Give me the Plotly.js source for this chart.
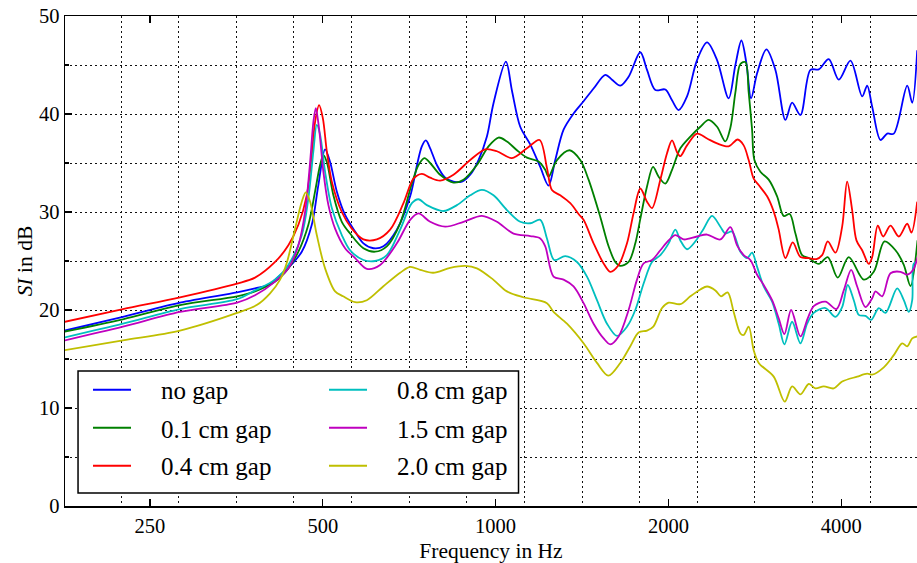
<!DOCTYPE html>
<html>
<head>
<meta charset="utf-8">
<script src="https://cdn.plot.ly/plotly-3.0.1.min.js"></script>
<style>html,body{margin:0;padding:0;background:#fff;overflow:hidden}</style>
</head>
<body>
<div id="chart" style="width:917px;height:563px"></div>
<script>
// Sound insulation (SI) spectra for different gap widths, frequency in Hz, SI in dB.
const noGapFreq = [177.7, 224.3, 282, 354.5, 381, 404.7, 412.9, 435.5, 459.6, 478.4, 491.2, 504.6, 514.9, 528.9, 546.8, 569.2, 588.5, 612.6, 637.7, 672.9, 709.8, 730.9, 743.9, 756.0, 769.1, 790.1, 816.8, 844.5, 873.5, 903.1, 933.7, 965.7, 991.6, 1042.2, 1067.6, 1103.8, 1149.0, 1196.0, 1236.5, 1270.3, 1313.3, 1367.0, 1423.0, 1481.3, 1552.6, 1594.9, 1648.9, 1704.7, 1786.7, 1835.4, 1897.6, 1975.3, 2029.1, 2083.6, 2155.0, 2243.2, 2335.1, 2430.7, 2546.6, 2616.1, 2679.8, 2734.1, 2786.1, 2854.1, 2962.6, 3071.7, 3197.5, 3284.5, 3395.9, 3534.9, 3654.6, 3804.3, 3960.1, 4150.4, 4350.0, 4438.2, 4528.2, 4681.5, 4809.2, 4938.3, 5211.1, 5316.8, 5424.5];
const noGapSI = [17.9, 19.3, 20.75, 21.8, 22.2, 22.6, 23.1, 24.3, 25.95, 28.7, 32.75, 36.4, 35.1, 32.1, 29.7, 28.0, 26.8, 26.3, 26.5, 28.2, 31.6, 35.0, 36.7, 37.3, 36.5, 34.8, 33.5, 33.1, 33.1, 33.8, 35.3, 37.7, 41.1, 45.35, 42.4, 38.7, 36.9, 34.6, 32.7, 35.3, 38.4, 40.05, 41.3, 42.6, 44.0, 43.5, 42.9, 43.8, 46.3, 44.5, 42.45, 42.5, 41.4, 40.4, 41.8, 45.5, 47.3, 45.5, 41.6, 45.0, 47.5, 45.2, 41.6, 44.15, 46.6, 44.5, 39.4, 41.15, 39.9, 44.5, 44.55, 45.6, 43.5, 45.45, 41.8, 42.9, 40.75, 37.35, 38.0, 38.0, 42.9, 41.15, 46.5];

const gap01Freq = [177.7, 224.3, 282, 354.5, 381, 412.9, 435.5, 453.4, 471.9, 484.8, 494.6, 501.2, 508.1, 521.7, 539.6, 557.9, 588.5, 616.8, 646.4, 681.9, 714.7, 733.9, 751.7, 769.1, 800.6, 844.5, 879.1, 927.7, 971.9, 1011.7, 1046.4, 1089.3, 1133.9, 1187.9, 1220.3, 1236.5, 1279.0, 1345.3, 1404.3, 1451.9, 1521.7, 1573.2, 1616.1, 1648.9, 1704.7, 1751.2, 1786.7, 1835.4, 1880.2, 1922.9, 1975.3, 2029.1, 2097.9, 2183.8, 2273.2, 2350.2, 2430.7, 2513.1, 2564.1, 2616.1, 2669.1, 2723.2, 2759.5, 2797.3, 2823.3, 2892.2, 2990.1, 3092.6, 3175.7, 3253.1, 3328.4, 3419.0, 3510.8, 3654.6, 3789.1, 3944.2, 4122.3, 4378.1, 4557.4, 4757.3, 4972.0, 5140.6, 5280.6, 5431.1];
const gap01SI = [17.8, 19.05, 20.5, 21.4, 21.9, 22.9, 24.25, 25.95, 28.7, 32.1, 34.8, 35.8, 35.1, 31.7, 29.0, 27.8, 26.3, 25.95, 26.5, 28.85, 32.9, 34.8, 35.5, 35.0, 33.8, 33.0, 33.3, 34.8, 36.7, 37.6, 37.2, 36.3, 35.55, 35.15, 34.3, 33.6, 35.3, 36.3, 35.3, 33.3, 29.5, 26.5, 24.9, 24.5, 24.9, 26.8, 29.3, 32.6, 34.6, 33.6, 32.9, 34.3, 36.5, 37.7, 38.7, 39.4, 38.7, 37.2, 38.6, 42.2, 45.1, 45.3, 42.2, 38.4, 35.3, 34.1, 33.3, 31.6, 29.6, 29.8, 27.8, 25.6, 25.3, 24.7, 25.4, 23.3, 25.4, 23.1, 23.9, 27.0, 26.1, 24.6, 22.45, 27.1];

const gap04Freq = [177.7, 224.3, 282, 354.5, 381, 412.9, 435.5, 453.4, 468.9, 478.4, 484.8, 492.6, 500, 508.1, 518.4, 539.6, 561.7, 588.5, 621.0, 655.0, 691.0, 719.3, 743.9, 769.1, 800.6, 844.5, 903.1, 959.1, 1005.2, 1067.6, 1133.9, 1192.7, 1228.6, 1253.5, 1296.0, 1349.1, 1394.8, 1423.0, 1481.3, 1542.0, 1584.0, 1637.7, 1693.8, 1739.3, 1786.7, 1835.4, 1872.6, 1936.1, 1988.8, 2029.1, 2070.2, 2097.9, 2155.0, 2243.2, 2335.1, 2430.7, 2546.6, 2640.3, 2704.6, 2759.5, 2815.4, 2872.5, 2970.9, 3031.2, 3071.7, 3112.6, 3197.5, 3292.5, 3395.9, 3510.8, 3621.0, 3704.8, 3789.1, 3908.1, 4014.5, 4095.8, 4178.9, 4251.6, 4350.0, 4466.8, 4528.2, 4631.1, 4732.6, 4873.2, 5038.4, 5211.1, 5301.8, 5424.5];
const gap04SI = [18.8, 20.1, 21.3, 22.7, 23.3, 24.9, 26.6, 28.7, 31.7, 35.8, 39.2, 40.9, 39.6, 36.2, 33.1, 30.0, 28.3, 27.2, 27.2, 28.2, 30.9, 33.4, 33.9, 33.5, 33.2, 33.8, 35.3, 36.4, 36.2, 35.5, 36.5, 37.35, 34.5, 32.25, 31.7, 30.9, 29.8, 29.2, 26.8, 24.75, 23.9, 24.6, 26.8, 29.9, 32.4, 31.05, 30.4, 33.3, 36.0, 37.3, 36.1, 35.7, 36.8, 38.0, 37.5, 37.0, 36.7, 37.4, 36.8, 35.3, 33.4, 32.75, 31.6, 30.5, 29.5, 28.2, 25.3, 26.9, 25.4, 25.3, 25.2, 25.6, 27.0, 25.85, 28.5, 33.1, 30.2, 27.1, 26.1, 24.7, 25.4, 28.6, 27.5, 28.6, 27.5, 28.8, 27.9, 31.05];

const gap08Freq = [177.7, 224.3, 282, 354.5, 381, 412.9, 435.5, 459.6, 471.9, 481.5, 488.1, 494.6, 504.6, 518.4, 539.6, 557.9, 588.5, 616.8, 646.4, 681.9, 714.7, 733.9, 759.0, 811.3, 856.1, 903.1, 946.5, 991.6, 1046.4, 1103.8, 1149.0, 1196.0, 1228.6, 1265.2, 1322.3, 1385.9, 1442.6, 1501.7, 1563.2, 1627.2, 1693.8, 1751.2, 1810.5, 1872.6, 1936.1, 2001.6, 2056.1, 2097.9, 2155.0, 2228.1, 2303.5, 2382.4, 2463.2, 2513.1, 2581.6, 2669.1, 2741.8, 2797.3, 2854.1, 2930.7, 3031.2, 3112.6, 3184.6, 3284.5, 3395.9, 3488.3, 3582.0, 3754.3, 3908.1, 4014.5, 4105.8, 4205.9, 4291.1, 4408.0, 4510.0, 4649.8, 4776.4, 5006.1, 5140.6, 5244.8, 5316.8, 5350.9, 5431.1];
const gap08SI = [17.2, 18.6, 20.1, 21.1, 22.0, 23.1, 24.6, 27.65, 31.4, 36.2, 38.9, 37.9, 34.1, 30.4, 27.65, 26.1, 25.1, 25.0, 25.6, 28.2, 30.9, 31.3, 30.7, 30.1, 30.7, 31.7, 32.25, 31.7, 30.2, 29.0, 28.85, 29.2, 27.3, 25.1, 25.5, 24.9, 23.4, 21.0, 18.6, 17.35, 18.3, 20.0, 22.7, 24.9, 25.6, 26.8, 28.2, 27.1, 26.2, 27.0, 28.3, 29.6, 28.5, 27.8, 28.0, 25.95, 25.3, 25.85, 24.4, 22.4, 20.85, 18.6, 16.5, 18.8, 16.6, 18.6, 19.7, 20.2, 19.3, 20.3, 22.55, 21.0, 19.5, 19.4, 19.0, 20.2, 19.7, 22.2, 21.0, 19.8, 21.0, 24.75, 24.9];

const gap15Freq = [177.7, 224.3, 282, 354.5, 381, 412.9, 435.5, 453.4, 465.7, 475.2, 481.5, 486.2, 492.6, 501.2, 511.4, 525.3, 546.8, 569.2, 596.6, 629.3, 672.9, 709.8, 733.9, 769.1, 816.8, 879.1, 946.5, 1005.2, 1074.5, 1149.0, 1196.0, 1220.3, 1261.6, 1313.3, 1367.0, 1423.0, 1481.3, 1542.0, 1584.0, 1637.7, 1704.7, 1763.2, 1810.5, 1872.6, 1936.1, 2001.6, 2056.1, 2125.8, 2243.2, 2335.1, 2463.2, 2564.1, 2633.9, 2704.6, 2778.4, 2854.1, 2930.7, 3031.2, 3112.6, 3184.6, 3271.3, 3395.9, 3496.8, 3582.0, 3754.3, 3923.7, 4040.4, 4162.2, 4263.6, 4408.0, 4528.2, 4588.5, 4713.6, 4873.2, 5072.8, 5211.1, 5338.2, 5431.1];
const gap15SI = [16.9, 18.3, 19.8, 20.75, 21.5, 22.9, 24.25, 26.6, 30.0, 35.1, 39.2, 40.6, 38.5, 34.1, 30.7, 28.3, 26.3, 25.3, 24.2, 24.6, 26.8, 29.2, 29.85, 29.0, 28.5, 29.0, 29.6, 29.0, 27.8, 27.55, 27.3, 26.5, 23.4, 23.1, 22.4, 20.7, 18.6, 17.1, 16.5, 17.3, 20.0, 23.1, 24.75, 25.1, 26.1, 27.1, 27.65, 27.2, 27.5, 27.7, 27.2, 28.45, 26.6, 25.6, 25.1, 23.6, 22.55, 21.0, 19.15, 17.55, 20.0, 17.3, 19.15, 20.4, 20.85, 20.1, 22.0, 24.1, 22.4, 20.3, 21.2, 21.9, 21.4, 23.75, 23.9, 23.6, 24.1, 25.4];

const gap20Freq = [177.7, 224.3, 282, 354.5, 383.6, 404.7, 421.3, 432.7, 447.4, 459.6, 467.0, 475.2, 488.1, 504.6, 525.3, 542.4, 569.2, 596.6, 636.9, 681.9, 709.8, 738.9, 778.5, 833.4, 885.1, 927.7, 990.4, 1046.4, 1117.1, 1228.6, 1261.6, 1331.3, 1423.0, 1501.7, 1571.4, 1648.9, 1716.4, 1774.5, 1835.4, 1882.4, 1949.3, 2001.6, 2097.9, 2183.8, 2273.2, 2335.1, 2414.3, 2470.1, 2536.4, 2598.2, 2669.1, 2704.6, 2759.5, 2815.4, 2872.5, 3050.7, 3188.5, 3284.5, 3395.9, 3510.8, 3606.6, 3728.7, 3881.4, 4014.5, 4263.6, 4438.2, 4528.2, 4743.9, 4938.3, 5107.6, 5211.1, 5316.8, 5424.5];
const gap20SI = [15.9, 16.9, 17.9, 19.7, 20.5, 21.7, 23.1, 24.8, 28.3, 31.05, 32.0, 31.05, 27.65, 24.25, 21.9, 21.4, 20.8, 21.0, 22.4, 23.8, 24.4, 24.1, 23.8, 24.3, 24.5, 24.25, 23.1, 21.9, 21.3, 20.7, 19.8, 18.6, 16.6, 14.6, 13.3, 14.6, 16.3, 17.7, 17.9, 18.3, 20.2, 20.75, 20.6, 21.4, 22.1, 22.4, 22.0, 21.4, 21.8, 19.8, 17.6, 17.45, 18.3, 15.9, 14.6, 13.2, 10.65, 12.2, 11.4, 12.45, 12.0, 12.2, 12.0, 12.7, 13.2, 13.5, 13.4, 14.15, 15.4, 16.6, 16.3, 17.1, 17.3];

const seriesNames = ['no gap', '0.1 cm gap', '0.4 cm gap', '0.8 cm gap', '1.5 cm gap', '2.0 cm gap'];
const seriesColors = ['#0000ff', '#008000', '#ff0000', '#00bfbf', '#bf00bf', '#bfbf00'];

const xTickVals = [250, 500, 1000, 2000, 4000];
const xTickText = ['250', '500', '1000', '2000', '4000'];
// third-octave band edges used for the vertical grid
const bandEdges = [222.7, 280.6, 353.6, 445.4, 561.2, 707.1, 890.9, 1122.5, 1414.2, 1781.8, 2244.9, 2828.4, 3563.6, 4489.8];

const FONT = '"Liberation Serif", "Times New Roman", serif';
const freqs = [noGapFreq, gap01Freq, gap04Freq, gap08Freq, gap15Freq, gap20Freq];
const values = [noGapSI, gap01SI, gap04SI, gap08SI, gap15SI, gap20SI];
const pad = '\u00a0\u00a0\u00a0\u00a0';

// one legend per entry: two columns of three rows
const legendIds = ['legend', 'legend2', 'legend3', 'legend4', 'legend5', 'legend6'];

const traces = seriesNames.map((name, i) => ({
  type: 'scatter',
  mode: 'lines',
  x: freqs[i],
  y: values[i],
  name: pad + name,
  legend: legendIds[i],
  line: { color: seriesColors[i], width: 1.8, shape: 'spline', smoothing: 0.9 },
  hoverinfo: 'skip'
}));

const gridDash = '1.6px,3.4px';
const legendBase = {
  orientation: 'v', xanchor: 'left', yanchor: 'top',
  bgcolor: 'rgba(0,0,0,0)', borderwidth: 0,
  font: { family: FONT, size: 25, color: '#000' },
  itemwidth: 38
};
const colX = [0.027, 0.304];
const rowY = [0.2837, 0.2061, 0.1286];

const layout = {
  width: 917, height: 563,
  margin: { l: 65, r: 0, t: 16, b: 57, pad: 0 },
  paper_bgcolor: '#fff', plot_bgcolor: '#fff',
  font: { family: FONT, color: '#000', size: 20 },
  showlegend: true,
  xaxis: {
    type: 'log',
    range: [Math.log10(177.8), Math.log10(5420)],
    tickmode: 'array', tickvals: xTickVals, ticktext: xTickText,
    ticks: 'inside', ticklen: 7, tickwidth: 1.2, tickcolor: '#000',
    showline: true, linecolor: '#000', linewidth: 1.5, mirror: 'ticks',
    showgrid: false, zeroline: false,
    minor: { tickmode: 'array', tickvals: bandEdges, showgrid: true, gridcolor: '#111', gridwidth: 1, griddash: gridDash, ticks: '' },
    tickfont: { family: FONT, size: 20.5, color: '#000' },
    ticklabelstandoff: 1,
    title: { text: 'Frequency in Hz', font: { family: FONT, size: 21.5, color: '#000' }, standoff: 7 }
  },
  yaxis: {
    range: [0, 50], tickmode: 'linear', tick0: 0, dtick: 10,
    ticks: 'inside', ticklen: 7, tickwidth: 1.2, tickcolor: '#000',
    showline: true, linecolor: '#000', linewidth: 1.5, mirror: false,
    showgrid: true, gridcolor: '#111', gridwidth: 1, griddash: gridDash, zeroline: false,
    minor: { dtick: 5, showgrid: true, gridcolor: '#111', gridwidth: 1, griddash: gridDash, ticks: 'inside', ticklen: 4, tickcolor: '#000' },
    tickfont: { family: FONT, size: 20.5, color: '#000' },
    title: { text: '<i>SI</i> in dB', font: { family: FONT, size: 21.5, color: '#000' }, standoff: 0 }
  },
  shapes: [{
    type: 'rect', xref: 'paper', yref: 'paper',
    x0: 0.0153, x1: 0.5323, y0: 0.0265, y1: 0.2755,
    line: { color: '#000', width: 1.5 }, fillcolor: '#fff', layer: 'above'
  }]
};
legendIds.forEach((id, i) => {
  layout[id] = Object.assign({}, legendBase, { x: colX[Math.floor(i / 3)], y: rowY[i % 3] });
});

Plotly.newPlot('chart', traces, layout, { staticPlot: true, displayModeBar: false });
</script>
</body>
</html>
